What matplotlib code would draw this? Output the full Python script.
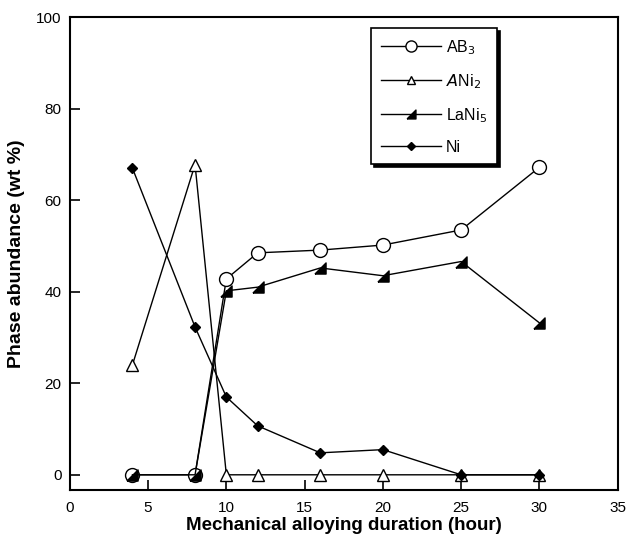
import numpy as np
import matplotlib
matplotlib.use('Agg')
import matplotlib.pyplot as plt

plt.rcParams['font.family'] = ['Liberation Sans', 'DejaVu Sans']

hours = [4, 8, 10, 12, 16, 20, 25, 30]
ab3 = [0, 0, 42.8, 48.5, 49.1, 50.2, 53.5, 67.2]
ani2 = [24, 67.8, 0, 0, 0, 0, 0, 0]
lani5 = [0, 0, 40.2, 41, 45.2, 43.5, 46.6, 33.2]
ni = [67, 32.3, 17, 10.7, 4.8, 5.5, 0, 0]

fig = plt.figure(figsize=(6.29, 5.36), dpi=100)
ax = fig.add_axes([0.111, 0.086, 0.871, 0.882])

right_tri = [(-1, -1), (1, -1), (1, 1), (-1, -1)]

ax.plot(hours, ab3, '-', color='k', lw=1, marker='o', ms=10, mfc='white', mec='k', mew=1, label='AB$_3$')
ax.plot(hours, ani2, '-', color='k', lw=1, marker='^', ms=8, mfc='white', mec='k', mew=1, label='$\\mathit{A}$Ni$_2$')
ax.plot(hours, lani5, '-', color='k', lw=1, marker=right_tri, ms=8, mfc='k', mec='k', label='LaNi$_5$')
ax.plot(hours, ni, '-', color='k', lw=1, marker='D', ms=5.5, mfc='k', mec='k', label='Ni')

ax.set_xlim(0, 35)
ax.set_ylim(-3.3, 100)
ax.set_xticks(np.arange(0, 36, 5))
ax.set_yticks(np.arange(0, 101, 20))
ax.tick_params(direction='in', length=7, width=1.2, labelsize=11, top=False, right=False)
ax.tick_params(axis='x', pad=8)
ax.tick_params(axis='y', pad=6)
for s in ax.spines.values():
    s.set_linewidth(1.5)

ax.set_xlabel('Mechanical alloying duration (hour)', fontsize=13.5, fontweight='bold', labelpad=1.5)
ax.set_ylabel('Phase abundance (wt %)', fontsize=14, fontweight='bold', labelpad=8)

leg = ax.legend(loc='upper left', bbox_to_anchor=(0.55, 0.976), frameon=True, fancybox=False,
                shadow={'color': 'black', 'alpha': 1}, fontsize=11.5, handlelength=3.8,
                labelspacing=0.95, borderpad=0.6, handletextpad=0.3, borderaxespad=0,
                markerscale=0.8)
leg.get_frame().set_edgecolor('k')
leg.get_frame().set_linewidth(1.2)

fig.savefig('out.png', dpi=100)
